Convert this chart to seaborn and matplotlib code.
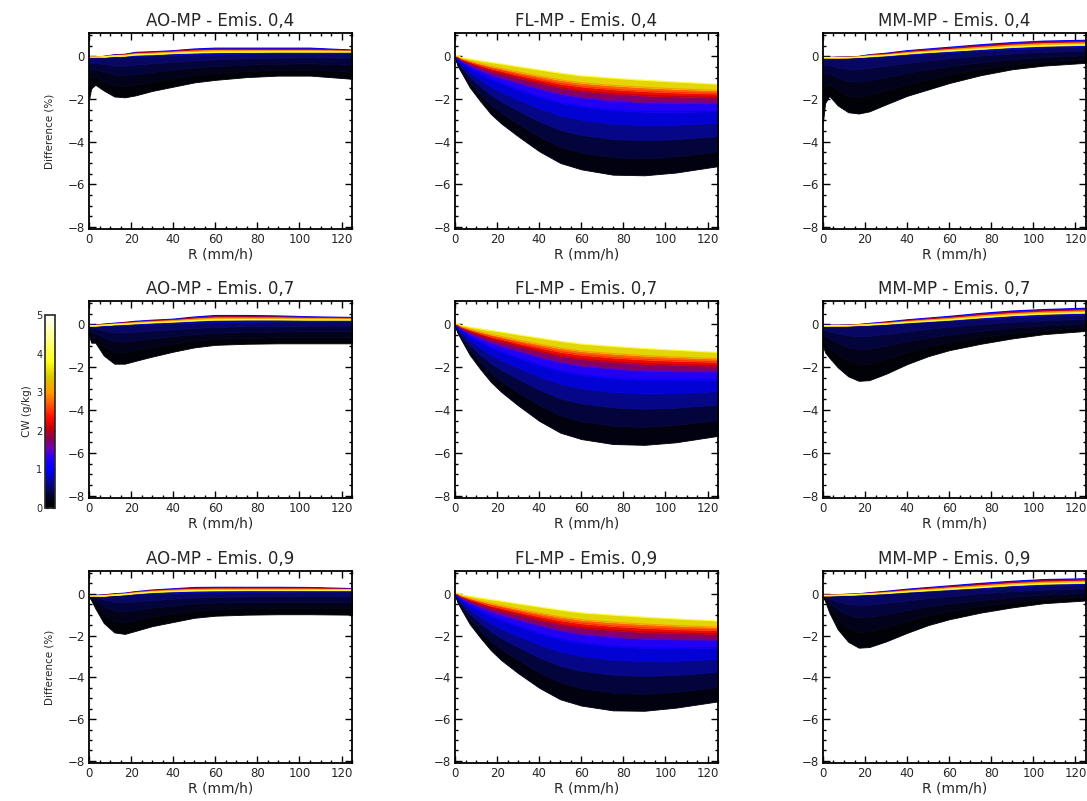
import matplotlib
matplotlib.use('Agg')
import matplotlib.pyplot as plt
import pandas as pd
import seaborn as sns
from matplotlib.colors import LinearSegmentedColormap, Normalize
from matplotlib.cm import ScalarMappable
from matplotlib.ticker import MultipleLocator

sns.set_style('ticks')
plt.rcParams['font.family'] = ['DejaVu Sans']

# rain rate grid (mm/h)
R = [0, 1, 3, 7, 12, 17, 22, 30, 40, 50, 60, 75, 90, 105, 125]

# cloud water levels (g/kg) of the curves in each panel
AO_CW = [0, 0.15, 0.3, 0.45, 0.6, 1, 2, 3, 4]
MM_CW = [0, 0.15, 0.3, 0.45, 0.6, 1, 2, 3, 4]
FL_CW = [0, 0.25, 0.5, 0.75, 1, 1.5, 2, 2.5, 3, 4]

emis = ['0,4', '0,7', '0,9']

# ---- AO-MP ----
ao_04 = [
    [-2.05, -1.5, -1.33, -1.6, -1.88, -1.92, -1.83, -1.62, -1.42, -1.22, -1.1, -0.97, -0.9, -0.9, -1.05],
    [-1.0, -1.0, -0.95, -1.15, -1.35, -1.38, -1.32, -1.17, -1.02, -0.88, -0.78, -0.68, -0.63, -0.62, -0.72],
    [-0.6, -0.6, -0.6, -0.72, -0.85, -0.87, -0.82, -0.72, -0.62, -0.52, -0.45, -0.38, -0.34, -0.32, -0.38],
    [-0.3, -0.3, -0.3, -0.35, -0.42, -0.42, -0.38, -0.32, -0.25, -0.18, -0.13, -0.08, -0.05, -0.03, -0.05],
    [-0.03, -0.03, -0.03, -0.03, -0.03, 0.0, 0.02, 0.05, 0.08, 0.1, 0.12, 0.14, 0.16, 0.17, 0.18],
    [-0.03, -0.03, -0.03, 0.0, 0.08, 0.1, 0.19, 0.22, 0.27, 0.35, 0.39, 0.39, 0.39, 0.39, 0.3],
    [-0.03, -0.03, -0.03, 0.0, 0.06, 0.08, 0.16, 0.2, 0.24, 0.3, 0.33, 0.33, 0.33, 0.33, 0.28],
    [-0.03, -0.03, -0.03, 0.0, 0.04, 0.06, 0.12, 0.15, 0.2, 0.25, 0.28, 0.28, 0.28, 0.28, 0.25],
    [-0.03, -0.03, -0.03, -0.02, 0.02, 0.03, 0.08, 0.1, 0.15, 0.18, 0.2, 0.21, 0.22, 0.22, 0.22],
]
ao_07 = [
    [-0.5, -0.85, -0.85, -1.45, -1.83, -1.83, -1.7, -1.5, -1.27, -1.07, -0.95, -0.9, -0.88, -0.88, -0.88],
    [-0.4, -0.6, -0.6, -1.0, -1.28, -1.3, -1.2, -1.05, -0.9, -0.75, -0.66, -0.62, -0.6, -0.6, -0.6],
    [-0.25, -0.35, -0.4, -0.6, -0.78, -0.8, -0.74, -0.64, -0.54, -0.45, -0.38, -0.35, -0.33, -0.32, -0.32],
    [-0.12, -0.15, -0.18, -0.28, -0.36, -0.37, -0.33, -0.28, -0.22, -0.16, -0.11, -0.08, -0.06, -0.05, -0.05],
    [-0.05, -0.05, -0.05, -0.05, -0.04, -0.02, 0.0, 0.04, 0.07, 0.1, 0.12, 0.13, 0.14, 0.15, 0.16],
    [-0.03, -0.03, -0.03, 0.02, 0.06, 0.1, 0.15, 0.2, 0.25, 0.35, 0.42, 0.42, 0.4, 0.36, 0.33],
    [-0.04, -0.04, -0.04, 0.0, 0.04, 0.08, 0.12, 0.17, 0.22, 0.3, 0.36, 0.36, 0.35, 0.33, 0.3],
    [-0.05, -0.05, -0.05, -0.02, 0.02, 0.05, 0.09, 0.13, 0.18, 0.25, 0.3, 0.3, 0.3, 0.28, 0.26],
    [-0.05, -0.05, -0.05, -0.03, 0.0, 0.02, 0.05, 0.09, 0.13, 0.18, 0.22, 0.23, 0.23, 0.22, 0.22],
]
ao_09 = [
    [-0.15, -0.3, -0.7, -1.4, -1.85, -1.92, -1.78, -1.55, -1.35, -1.15, -1.05, -1.0, -0.98, -0.98, -1.0],
    [-0.12, -0.22, -0.5, -0.98, -1.3, -1.35, -1.25, -1.08, -0.94, -0.8, -0.72, -0.68, -0.67, -0.67, -0.68],
    [-0.1, -0.15, -0.32, -0.6, -0.8, -0.84, -0.77, -0.66, -0.56, -0.47, -0.42, -0.39, -0.38, -0.38, -0.38],
    [-0.08, -0.1, -0.16, -0.28, -0.38, -0.4, -0.36, -0.3, -0.23, -0.18, -0.14, -0.12, -0.1, -0.1, -0.1],
    [-0.05, -0.05, -0.05, -0.05, -0.04, -0.02, 0.0, 0.03, 0.05, 0.07, 0.08, 0.09, 0.1, 0.11, 0.12],
    [-0.08, -0.08, -0.08, -0.05, 0.0, 0.03, 0.1, 0.18, 0.24, 0.3, 0.31, 0.31, 0.31, 0.3, 0.25],
    [-0.09, -0.09, -0.09, -0.06, -0.02, 0.01, 0.08, 0.15, 0.21, 0.26, 0.27, 0.27, 0.27, 0.27, 0.22],
    [-0.1, -0.1, -0.1, -0.08, -0.04, -0.01, 0.05, 0.12, 0.17, 0.21, 0.22, 0.22, 0.22, 0.22, 0.2],
    [-0.1, -0.1, -0.1, -0.1, -0.06, -0.03, 0.02, 0.08, 0.12, 0.15, 0.16, 0.17, 0.17, 0.17, 0.17],
]

# ---- FL-MP ----
fl_04 = [
    [0.0, -0.4, -0.75, -1.45, -2.1, -2.7, -3.15, -3.75, -4.45, -5.0, -5.3, -5.55, -5.58, -5.45, -5.15],
    [0.0, -0.32, -0.62, -1.21, -1.76, -2.26, -2.65, -3.16, -3.76, -4.24, -4.51, -4.73, -4.78, -4.69, -4.46],
    [0.0, -0.23, -0.49, -0.96, -1.4, -1.8, -2.11, -2.54, -3.04, -3.44, -3.68, -3.87, -3.93, -3.88, -3.73],
    [0.0, -0.16, -0.38, -0.75, -1.09, -1.42, -1.67, -2.02, -2.43, -2.76, -2.97, -3.15, -3.22, -3.2, -3.11],
    [0.0, -0.1, -0.28, -0.56, -0.83, -1.08, -1.27, -1.56, -1.89, -2.17, -2.36, -2.51, -2.59, -2.6, -2.57],
    [0.0, -0.05, -0.21, -0.43, -0.64, -0.84, -1.0, -1.23, -1.51, -1.75, -1.92, -2.06, -2.15, -2.18, -2.19],
    [0.0, -0.02, -0.16, -0.33, -0.5, -0.67, -0.8, -1.0, -1.24, -1.46, -1.61, -1.74, -1.83, -1.88, -1.92],
    [0.0, 0.0, -0.13, -0.27, -0.42, -0.56, -0.67, -0.86, -1.07, -1.27, -1.41, -1.54, -1.63, -1.69, -1.74],
    [0.0, 0.02, -0.1, -0.22, -0.34, -0.46, -0.56, -0.73, -0.92, -1.1, -1.24, -1.36, -1.45, -1.52, -1.59],
    [0.0, 0.05, -0.05, -0.12, -0.2, -0.28, -0.35, -0.48, -0.63, -0.78, -0.91, -1.02, -1.12, -1.2, -1.3],
]
fl_07_bottom = [0.0, -0.35, -0.72, -1.42, -2.08, -2.68, -3.15, -3.78, -4.5, -5.05, -5.35, -5.58, -5.62, -5.5, -5.2]
fl_09_bottom = [0.0, -0.38, -0.75, -1.45, -2.1, -2.7, -3.18, -3.8, -4.5, -5.05, -5.35, -5.58, -5.6, -5.45, -5.15]
fl_07 = [fl_07_bottom] + fl_04[1:]
fl_09 = [fl_09_bottom] + fl_04[1:]

# ---- MM-MP ----
mm_04 = [
    [-3.1, -2.2, -1.85, -2.3, -2.62, -2.68, -2.58, -2.25, -1.85, -1.55, -1.25, -0.88, -0.6, -0.43, -0.3],
    [-1.5, -1.4, -1.3, -1.6, -1.85, -1.9, -1.82, -1.58, -1.3, -1.07, -0.85, -0.58, -0.37, -0.23, -0.12],
    [-0.8, -0.8, -0.8, -1.0, -1.15, -1.18, -1.12, -0.96, -0.76, -0.6, -0.45, -0.27, -0.13, -0.02, 0.06],
    [-0.4, -0.4, -0.4, -0.5, -0.58, -0.58, -0.53, -0.42, -0.3, -0.18, -0.08, 0.05, 0.15, 0.22, 0.28],
    [-0.05, -0.05, -0.05, -0.05, -0.05, -0.05, -0.03, 0.02, 0.08, 0.14, 0.2, 0.28, 0.35, 0.42, 0.48],
    [-0.05, -0.05, -0.05, -0.03, -0.02, 0.0, 0.08, 0.15, 0.27, 0.35, 0.43, 0.55, 0.65, 0.72, 0.76],
    [-0.05, -0.05, -0.05, -0.04, -0.03, -0.01, 0.06, 0.12, 0.23, 0.3, 0.38, 0.49, 0.59, 0.66, 0.7],
    [-0.05, -0.05, -0.05, -0.05, -0.04, -0.02, 0.04, 0.08, 0.18, 0.25, 0.32, 0.42, 0.52, 0.59, 0.63],
    [-0.05, -0.05, -0.05, -0.05, -0.05, -0.03, 0.0, 0.05, 0.13, 0.2, 0.26, 0.35, 0.44, 0.5, 0.54],
]
mm_07 = [
    [-1.0, -1.3, -1.55, -2.0, -2.42, -2.63, -2.6, -2.3, -1.85, -1.48, -1.2, -0.9, -0.65, -0.45, -0.3],
    [-0.7, -0.9, -1.1, -1.4, -1.7, -1.85, -1.82, -1.6, -1.3, -1.02, -0.8, -0.58, -0.4, -0.25, -0.12],
    [-0.45, -0.55, -0.65, -0.85, -1.05, -1.15, -1.12, -0.98, -0.78, -0.6, -0.46, -0.3, -0.15, -0.04, 0.05],
    [-0.2, -0.25, -0.3, -0.4, -0.5, -0.55, -0.52, -0.44, -0.32, -0.2, -0.1, 0.03, 0.13, 0.2, 0.27],
    [-0.05, -0.05, -0.05, -0.05, -0.05, -0.05, -0.03, 0.02, 0.08, 0.14, 0.2, 0.27, 0.35, 0.42, 0.47],
    [-0.03, -0.03, -0.03, -0.03, -0.02, 0.0, 0.05, 0.12, 0.22, 0.3, 0.38, 0.52, 0.63, 0.7, 0.76],
    [-0.04, -0.04, -0.04, -0.04, -0.03, -0.01, 0.03, 0.09, 0.18, 0.26, 0.33, 0.46, 0.57, 0.64, 0.7],
    [-0.05, -0.05, -0.05, -0.05, -0.04, -0.02, 0.01, 0.06, 0.14, 0.21, 0.28, 0.4, 0.5, 0.57, 0.63],
    [-0.05, -0.05, -0.05, -0.05, -0.05, -0.03, -0.01, 0.03, 0.1, 0.16, 0.22, 0.33, 0.43, 0.5, 0.55],
]
mm_09 = [
    [-0.15, -0.35, -0.9, -1.7, -2.3, -2.58, -2.55, -2.28, -1.87, -1.5, -1.22, -0.9, -0.65, -0.45, -0.32],
    [-0.12, -0.27, -0.65, -1.2, -1.62, -1.82, -1.8, -1.6, -1.3, -1.03, -0.82, -0.58, -0.4, -0.25, -0.13],
    [-0.1, -0.2, -0.42, -0.75, -1.0, -1.13, -1.1, -0.97, -0.78, -0.6, -0.46, -0.3, -0.15, -0.04, 0.05],
    [-0.08, -0.12, -0.22, -0.37, -0.48, -0.54, -0.51, -0.43, -0.32, -0.2, -0.1, 0.03, 0.13, 0.2, 0.27],
    [-0.05, -0.05, -0.05, -0.05, -0.05, -0.05, -0.03, 0.02, 0.08, 0.14, 0.2, 0.27, 0.35, 0.41, 0.46],
    [-0.05, -0.05, -0.05, -0.04, -0.02, 0.0, 0.05, 0.12, 0.22, 0.3, 0.38, 0.5, 0.6, 0.68, 0.72],
    [-0.06, -0.06, -0.06, -0.05, -0.03, -0.01, 0.03, 0.09, 0.18, 0.26, 0.33, 0.44, 0.54, 0.62, 0.66],
    [-0.07, -0.07, -0.07, -0.06, -0.04, -0.02, 0.01, 0.06, 0.14, 0.21, 0.28, 0.38, 0.48, 0.55, 0.6],
    [-0.08, -0.08, -0.08, -0.07, -0.05, -0.03, -0.01, 0.03, 0.1, 0.16, 0.22, 0.31, 0.41, 0.48, 0.52],
]

panels = [
    [('AO-MP', ao_04, AO_CW), ('FL-MP', fl_04, FL_CW), ('MM-MP', mm_04, MM_CW)],
    [('AO-MP', ao_07, AO_CW), ('FL-MP', fl_07, FL_CW), ('MM-MP', mm_07, MM_CW)],
    [('AO-MP', ao_09, AO_CW), ('FL-MP', fl_09, FL_CW), ('MM-MP', mm_09, MM_CW)],
]

# IDL-like black-blue-red-yellow-white table
cmap = LinearSegmentedColormap.from_list('cw', [
    (0.00, (0.0, 0.0, 0.0)),
    (0.06, (0.01, 0.01, 0.15)),
    (0.10, (0.03, 0.03, 0.38)),
    (0.20, (0.0, 0.0, 1.0)),
    (0.26, (0.15, 0.0, 0.95)),
    (0.31, (0.45, 0.0, 0.70)),
    (0.36, (0.55, 0.0, 0.30)),
    (0.41, (0.75, 0.0, 0.05)),
    (0.47, (1.0, 0.05, 0.0)),
    (0.54, (1.0, 0.35, 0.05)),
    (0.60, (1.0, 0.60, 0.0)),
    (0.68, (0.85, 0.78, 0.0)),
    (0.76, (1.0, 1.0, 0.10)),
    (0.88, (1.0, 1.0, 0.55)),
    (1.00, (1.0, 1.0, 1.0)),
])
norm = Normalize(0, 5)

fig = plt.figure(figsize=(10.87, 8.01), dpi=100)
lefts = [0.0819, 0.4186, 0.7571]
bottoms = [0.7141, 0.3783, 0.0474]
heights = [0.2447, 0.246, 0.240]
width = 0.242

for i, row in enumerate(panels):
    for j, (name, curves, levels) in enumerate(row):
        ax = fig.add_axes([lefts[j], bottoms[i], width, heights[i]])
        for k in range(len(levels) - 1):
            c = cmap(norm((levels[k] + levels[k + 1]) / 2))
            ax.fill_between(R, curves[k], curves[k + 1], color=c, lw=0.6, ec=c)
        # coloured curves of the larger cloud water contents
        df = pd.DataFrame({
            'R': R * len(levels),
            'diff': [v for cur in curves for v in cur],
            'CW': [lv for lv in levels for _ in R],
        })
        df = df[df['CW'] >= 1]
        sns.lineplot(data=df, x='R', y='diff', hue='CW', palette=cmap, hue_norm=(0, 5),
                     estimator=None, sort=False, legend=False, lw=0.8, ax=ax)

        ax.set_xlim(0, 125)
        ax.set_ylim(-8.1, 1.1)
        ax.xaxis.set_major_locator(MultipleLocator(20))
        ax.xaxis.set_minor_locator(MultipleLocator(5))
        ax.yaxis.set_major_locator(MultipleLocator(2))
        ax.yaxis.set_minor_locator(MultipleLocator(0.5))
        ax.tick_params(which='both', direction='in', top=True, right=True,
                       labelsize=8.5, width=1, color='black')
        ax.tick_params(which='major', length=5, pad=3)
        ax.tick_params(which='minor', length=2.5)
        for s in ax.spines.values():
            s.set_linewidth(1.3)
            s.set_color('black')
        ax.set_title(f'{name} - Emis. {emis[i]}', fontsize=12, pad=5)
        ax.set_xlabel('R (mm/h)', fontsize=10, labelpad=1)
        if j == 0 and i != 1:
            ax.set_ylabel('Difference (%)', fontsize=7.5, labelpad=9)
        else:
            ax.set_ylabel('')

# colour bar for cloud water
cax = fig.add_axes([0.0414, 0.3658, 0.0092, 0.241])
cb = fig.colorbar(ScalarMappable(norm=norm, cmap=cmap), cax=cax)
cb.set_ticks([0, 1, 2, 3, 4, 5])
cb.ax.yaxis.set_ticks_position('both')
cb.ax.yaxis.set_label_position('left')
cb.ax.yaxis.set_minor_locator(MultipleLocator(0.5))
cb.ax.tick_params(which='both', direction='in', labelleft=True, labelright=False,
                  labelsize=7, length=3, pad=2)
cb.ax.tick_params(which='minor', length=1.5)
cb.outline.set_linewidth(1.2)
cb.set_label('CW (g/kg)', fontsize=7.5, labelpad=3)

fig.savefig('out.png', dpi=100)
